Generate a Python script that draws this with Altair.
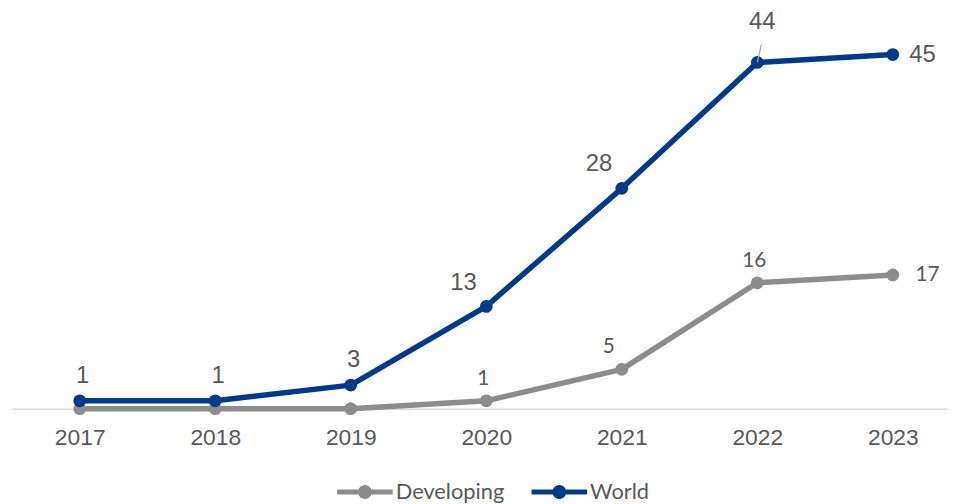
import math
import altair as alt
import pandas as pd

years = [2017, 2018, 2019, 2020, 2021, 2022, 2023]
world = [1, 1, 3, 13, 28, 44, 45]
developing = [0, 0, 0, 1, 5, 16, 17]
series_names = ["Developing", "World"]

world_label_pos = ["above", "above", "above", "left", "left", "high", "right"]
dev_label_pos = ["", "", "", "above", "left", "above", "right"]

rows = []
for y, v, p in zip(years, developing, dev_label_pos):
    rows.append({"series": "Developing", "year": y, "value": v, "pos": p})
for y, v, p in zip(years, world, world_label_pos):
    rows.append({"series": "World", "year": y, "value": v, "pos": p})
df = pd.DataFrame(rows)

colors = ["#8c8c8c", "#003a8c"]
text_color = "#595959"
arial = "Arial, Liberation Sans, sans-serif"

x = alt.X("year:Q",
          scale=alt.Scale(domain=[2016.5, 2023.4], nice=False, zero=False),
          axis=alt.Axis(values=years, format="d", title=None, ticks=False, grid=False,
                        domainColor="#d9d9d9", domainWidth=1.5,
                        labelFont=arial, labelFontSize=23,
                        labelColor=text_color, labelPadding=18, labelFlush=False))
y = alt.Y("value:Q", scale=alt.Scale(domain=[0, 50.4], nice=False), axis=None)
color_scale = alt.Scale(domain=series_names, range=colors)

base = alt.Chart(df)

def series_line(name, col):
    return base.transform_filter(alt.datum.series == name).mark_line(
        strokeWidth=5.5, strokeCap="round", strokeJoin="round", color=col
    ).encode(x=x, y=y, order=alt.Order("year:Q"))

lines = [series_line(n, c) for n, c in zip(series_names, colors)]

# legend symbol: a bar with a dot in the middle (polygon path, no arcs)
circle_pts = " ".join(
    f"{'M' if i == 0 else 'L'}{math.cos(2 * math.pi * i / 24):.3f},{math.sin(2 * math.pi * i / 24):.3f}"
    for i in range(24)
)
legend_path = ("M-4,-0.36 L-0.9,-0.36 L-0.9,0.36 L-4,0.36 Z "
               "M0.9,-0.36 L4,-0.36 L4,0.36 L0.9,0.36 Z " + circle_pts + " Z")

points = base.mark_circle(size=165, opacity=1).encode(
    x=x, y=y,
    color=alt.Color("series:N", scale=color_scale,
                    legend=alt.Legend(title=None, orient="none", direction="horizontal",
                                      legendX=345, legendY=473, padding=0,
                                      symbolType=legend_path, symbolSize=196,
                                      symbolStrokeWidth=0, symbolOpacity=1,
                                      labelFont="Lato", labelFontSize=22,
                                      labelColor=text_color, labelOffset=20,
                                      columnPadding=27)),
)

def labels(series, pos, dx, dy, font, size):
    return base.transform_filter(
        (alt.datum.series == series) & (alt.datum.pos == pos)
    ).mark_text(dx=dx, dy=dy, font=font, fontSize=size, color=text_color,
                align="center", baseline="middle").encode(
        x=x, y=y, text=alt.Text("value:Q", format="d"))

world_font = arial
dev_font = "Lato"
label_layers = [
    labels("World", "above", 3, -25, world_font, 24),
    labels("World", "left", -23, -24, world_font, 24),
    labels("World", "high", 5, -41, world_font, 24),
    labels("World", "right", 30, 0, world_font, 24),
    labels("Developing", "above", -3, -22, dev_font, 21),
    labels("Developing", "left", -13, -22, dev_font, 21),
    labels("Developing", "right", 35, 0, dev_font, 21),
]

leader = base.transform_filter(
    (alt.datum.series == "World") & (alt.datum.pos == "high")
).transform_calculate(
    y_top="datum.value + 2.3", x_top="datum.year + 0.03"
).mark_rule(color="#a6a6a6", strokeWidth=1.2).encode(
    x=x, y=y, x2="x_top:Q", y2="y_top:Q")

chart = alt.layer(*lines, points, leader, *label_layers).properties(
    width=943, height=400,
    padding={"left": 4, "top": 2, "right": 3, "bottom": 94},
    autosize=alt.AutoSizeParams(type="none"),
    background="white",
).configure_view(stroke=None)

chart.save("out.html", embed_options={"renderer": "svg", "actions": False})
